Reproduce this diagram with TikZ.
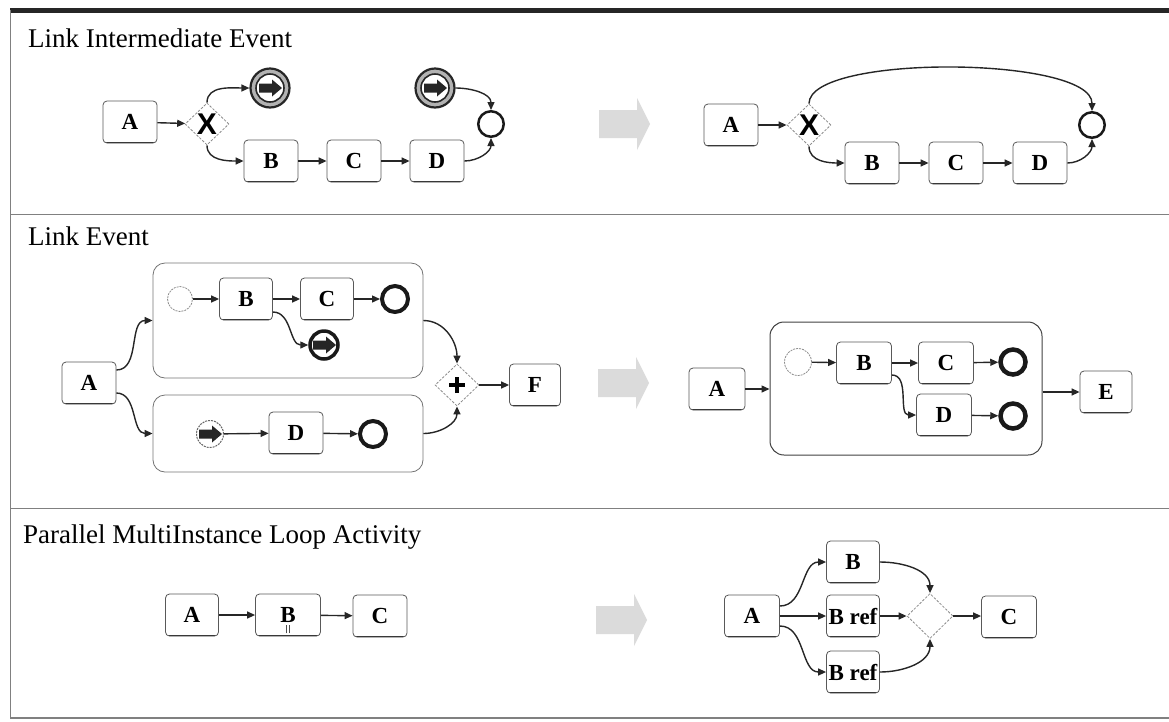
\documentclass[tikz,border=0pt]{standalone}
\usepackage{fontspec}
\setmainfont{Liberation Serif}
\newfontfamily\gwfont{Liberation Sans}
\usetikzlibrary{arrows.meta,shapes.geometric}

% filled block arrow used inside link events, centred in the node
\newcommand\lkarrow[1]{%
  \fill[black!85, solid, shift={(path picture bounding box.center)}, scale=#1]
    (-11,-4.5) -- (2,-4.5) -- (2,-8.5) -- (12,0) -- (2,8.5) -- (2,4.5) -- (-11,4.5) -- cycle;}

% light grey transformation arrow between the two halves of a row
\newcommand\grayarrow[1]{%
  \fill[black!14, shift={#1}] (-25,-14) -- (13,-14) -- (13,-26) -- (26,0) -- (13,26) -- (13,14) -- (-25,14) -- cycle;}

\begin{document}
\begin{tikzpicture}[x=1pt, y=1pt,
  rule/.style={draw=black!50, line width=0.8pt},
  title/.style={anchor=base west, inner sep=0pt, font=\fontsize{27}{27}\selectfont},
  task/.style={rectangle, rounded corners=4pt, draw=black!65, line width=0.8pt, fill=white,
    minimum width=54pt, minimum height=42pt, inner sep=0pt,
    font=\bfseries\fontsize{23}{23}\selectfont,
    path picture={\draw[black!85, solid, line width=2.6pt]
      (path picture bounding box.south west) -- (path picture bounding box.south east);}},
  gw/.style={diamond, draw=black!45, line width=0.8pt, dash pattern=on 2.5pt off 1.5pt,
    minimum width=44pt, minimum height=42pt, inner sep=0pt, fill=white},
  xgw/.style={gw, label={[font=\gwfont\bfseries\fontsize{30}{30}\selectfont, inner sep=0pt]center:X}},
  pgw/.style={gw, path picture={
    \draw[black, solid, line width=3.6pt] ([xshift=-8pt]path picture bounding box.center) -- ([xshift=8pt]path picture bounding box.center);
    \draw[black, solid, line width=3.6pt] ([yshift=-8pt]path picture bounding box.center) -- ([yshift=8pt]path picture bounding box.center);}},
  startev/.style={circle, draw=black!45, line width=0.8pt, dash pattern=on 2pt off 1pt,
    minimum size=25pt, inner sep=0pt, fill=white},
  endthin/.style={circle, draw=black!90, line width=2.5pt, minimum size=25.5pt, inner sep=0pt, fill=white},
  endbold/.style={circle, draw=black!90, line width=4pt, minimum size=26pt, inner sep=0pt, fill=white},
  linkdbl/.style={circle, draw=black!85, line width=2.2pt, minimum size=39pt, inner sep=0pt, fill=black!30,
    path picture={\filldraw[fill=white, draw=black!85, solid, line width=1.6pt]
      (path picture bounding box.center) circle[radius=14pt]; \lkarrow{0.95}}},
  linkend/.style={circle, draw=black!90, line width=3.5pt, minimum size=28pt, inner sep=0pt, fill=white,
    path picture={\lkarrow{0.85}}},
  linkcatch/.style={circle, draw=black!60, line width=1pt, dash pattern=on 2pt off 1pt,
    minimum size=27pt, inner sep=0pt, fill=white, path picture={\lkarrow{0.8}}},
  pool/.style={rectangle, rounded corners=12pt, draw=black!55, line width=0.8pt, inner sep=0pt},
  flow/.style={draw=black!85, line width=1.4pt, -{Triangle[length=8pt,width=7pt]}},
  mimark/.style={draw=black!70, line width=0.6pt}
]
\useasboundingbox (0,0) rectangle (1169,-721);

% ---------- frame and row separators ----------
\draw[black!85, line width=4.5pt] (10,-10.5) -- (1169,-10.5);
\draw[rule] (10,-10) -- (10,-718);
\draw[rule] (10,-214) -- (1169,-214);
\draw[rule] (10,-508) -- (1169,-508);
\draw[rule, line width=1.6pt] (10,-718) -- (1169,-718);

% ---------- row titles ----------
\node[title] (T1) at (28,-47) {Link Intermediate Event};
\node[title] (T2) at (28,-245) {Link Event};
\node[title] (T3) at (23,-543) {Parallel MultiInstance Loop Activity};

% ---------- transformation arrows ----------
\grayarrow{(624,-124)}
\grayarrow{(623,-383)}
\grayarrow{(621,-620)}

% ===== Row 1: link intermediate event =====
\node[task] (A1) at (130,-122) {A};
\node[xgw] (X1) at (207,-124) {};
\node[linkdbl] (L1) at (270,-88) {};
\node[linkdbl] (L2) at (435,-88) {};
\node[endthin] (E1) at (491,-124) {};
\node[task] (B1) at (271,-161) {B};
\node[task] (C1) at (354,-161) {C};
\node[task] (D1) at (437,-161) {D};

\draw[flow] (A1) -- (X1);
\draw[flow] (X1.north) to[out=90,in=180] (L1.west);
\draw[flow] (X1.south) to[out=-90,in=180] (B1.west);
\draw[flow] (B1) -- (C1);
\draw[flow] (C1) -- (D1);
\draw[flow] (D1.east) to[out=0,in=-90] (E1.south);
\draw[flow] (L2.east) to[out=0,in=90] (E1.north);

\node[task] (A2) at (731,-125) {A};
\node[xgw] (X2) at (809,-125) {};
\node[endthin] (E2) at (1092,-125) {};
\node[task] (B2) at (872,-163) {B};
\node[task] (C2) at (956,-163) {C};
\node[task] (D2) at (1040,-163) {D};

\draw[flow] (A2) -- (X2);
\draw[flow] (X2.north) .. controls +(0,50) and +(0,55) .. (E2.north);
\draw[flow] (X2.south) to[out=-90,in=180] (B2.west);
\draw[flow] (B2) -- (C2);
\draw[flow] (C2) -- (D2);
\draw[flow] (D2.east) to[out=0,in=-90] (E2.south);

% ===== Row 2: link event =====
\node[pool, minimum width=270pt, minimum height=115pt] (UP) at (288,-320.5) {};
\node[pool, minimum width=270pt, minimum height=77pt] (LP) at (288,-433.5) {};
\node[task] (A3) at (89,-383) {A};
\node[startev] (S1) at (180,-299) {};
\node[task, minimum width=53pt] (B3) at (246,-299) {B};
\node[task, minimum width=53pt] (C3) at (327,-299) {C};
\node[endbold] (E3) at (395,-299) {};
\node[linkend] (LE3) at (324,-345) {};
\node[linkcatch] (LC3) at (210,-434) {};
\node[task] (D3) at (296,-433) {D};
\node[endbold] (E4) at (373,-434) {};
\node[pgw] (P3) at (457,-385) {};
\node[task, minimum width=51pt] (F3) at (535,-385) {F};

\draw[flow] ([yshift=13pt]A3.east) to[out=0,in=180] (UP.west);
\draw[flow] ([yshift=-10pt]A3.east) to[out=0,in=180] (LP.west);
\draw[flow] (S1) -- (B3);
\draw[flow] (B3) -- (C3);
\draw[flow] (C3) -- (E3);
\draw[flow] ([yshift=-13pt]B3.east) to[out=0,in=180] (LE3.west);
\draw[flow] (LC3) -- (D3);
\draw[flow] (D3) -- (E4);
\draw[flow] (UP.east) to[out=0,in=90] (P3.north);
\draw[flow] (LP.east) to[out=0,in=-90] (P3.south);
\draw[flow] (P3) -- (F3);

\node[task, minimum width=56pt] (A4) at (717,-389) {A};
\node[pool, draw=black!75, line width=1pt, rounded corners=14pt,
      minimum width=272pt, minimum height=133pt] (P2) at (906,-388.5) {};
\node[startev, minimum size=27pt] (S2) at (798,-362) {};
\node[task, minimum width=55pt] (B4) at (864,-363) {B};
\node[task, minimum width=55pt] (C4) at (946,-363) {C};
\node[endbold, minimum size=25pt, line width=4.5pt] (E5) at (1013,-362) {};
\node[task, minimum width=55pt] (D4) at (944,-415) {D};
\node[endbold, minimum size=25pt, line width=4.5pt] (E6) at (1013,-416) {};
\node[task, minimum width=52pt] (E7) at (1106,-392) {E};

\draw[flow] (A4) -- (P2.west |- A4.east);
\draw[flow] (S2) -- (B4);
\draw[flow] (B4) -- (C4);
\draw[flow] (C4) -- (E5);
\draw[flow] ([yshift=-12pt]B4.east) to[out=0,in=180] (D4.west);
\draw[flow] (D4) -- (E6);
\draw[flow] (P2.east |- E7.west) -- (E7.west);

% ===== Row 3: parallel multi-instance loop activity =====
\node[task, minimum width=53pt] (A5) at (192,-615) {A};
\node[task, minimum width=65pt] (B5) at (288,-615) {B};
\node[task] (C5) at (380,-616) {C};
\draw[mimark] ([xshift=-1.5pt,yshift=3pt]B5.south) -- ++(0,8);
\draw[mimark] ([xshift=1.5pt,yshift=3pt]B5.south) -- ++(0,8);

\draw[flow] (A5) -- (B5);
\draw[flow] (B5) -- (C5);

\node[task, minimum width=55pt] (A6) at (752,-616) {A};
\node[task, minimum width=53pt] (B6) at (853,-562) {B};
\node[task, minimum width=53pt] (BR1) at (853,-616) {B ref};
\node[task, minimum width=53pt] (BR2) at (853,-672) {B ref};
\node[gw, minimum width=46pt, minimum height=45pt] (G6) at (930,-616) {};
\node[task, minimum width=55pt] (C6) at (1009,-617) {C};

\draw[flow] ([yshift=10pt]A6.east) to[out=0,in=180] (B6.west);
\draw[flow] (A6) -- (BR1);
\draw[flow] ([yshift=-10pt]A6.east) to[out=0,in=180] (BR2.west);
\draw[flow] (B6.east) to[out=0,in=90] (G6.north);
\draw[flow] (BR1) -- (G6);
\draw[flow] (BR2.east) to[out=0,in=-90] (G6.south);
\draw[flow] (G6) -- (C6.west |- G6.east);
\end{tikzpicture}
\end{document}
